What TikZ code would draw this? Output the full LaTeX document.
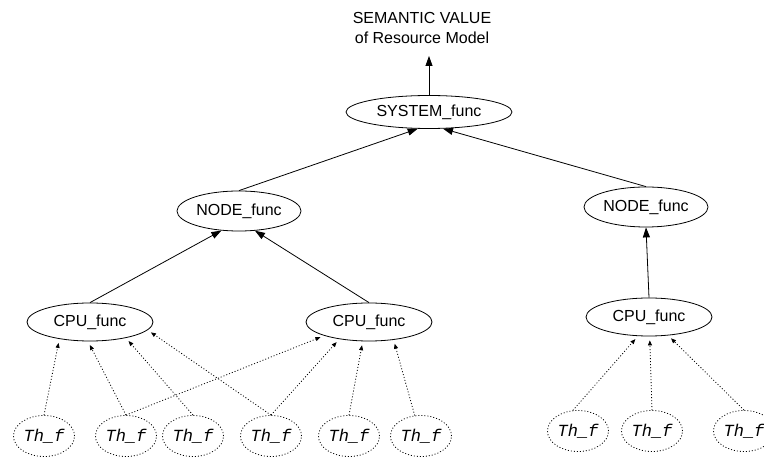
\documentclass[tikz,border=0pt]{standalone}
\usepackage{fontspec}
\setmainfont{Liberation Sans}
\newfontfamily\thfont{Liberation Mono}
\usetikzlibrary{arrows.meta,shapes.geometric}

\begin{document}
\begin{tikzpicture}[x=1pt,y=-1pt,
  func/.style={ellipse, draw, line width=0.8pt, inner sep=0pt,
    minimum width=124pt, minimum height=38pt,
    font=\fontsize{16}{20}\selectfont},
  thr/.style={ellipse, draw, line width=0.8pt, dash pattern=on 1pt off 2pt,
    inner sep=0pt, minimum width=61pt, minimum height=41pt,
    font=\thfont\itshape\fontsize{17}{20}\selectfont},
  up/.style={-{Triangle[length=10pt,width=7pt]}, line width=0.8pt},
  feed/.style={-{Triangle[length=5pt,width=4pt]}, line width=0.8pt,
    dash pattern=on 1pt off 2pt, shorten >=4pt}
]
\useasboundingbox (0,0) rectangle (764,457);

% top label
\node[anchor=south, inner sep=0pt, align=center,
  font=\fontsize{16}{20}\selectfont] (lbl) at (422,44)
  {SEMANTIC VALUE\\ of Resource Model};

% function nodes
\node[func, minimum width=166pt, minimum height=33pt] (sys) at (429,112) {SYSTEM\_func};
\node[func, minimum height=40pt] (node1) at (239,211) {NODE\_func};
\node[func, minimum height=40pt] (node2) at (646,207) {NODE\_func};
\node[func, minimum width=126pt] (cpu1) at (90,322) {CPU\_func};
\node[func, minimum width=126pt] (cpu2) at (369,322) {CPU\_func};
\node[func, minimum width=126pt] (cpu3) at (649,317) {CPU\_func};

% thread nodes
\node[thr] (th1) at (44,436) {Th\_f};
\node[thr] (th2) at (126,436) {Th\_f};
\node[thr] (th3) at (193,436) {Th\_f};
\node[thr] (th4) at (271,436) {Th\_f};
\node[thr] (th5) at (349,436) {Th\_f};
\node[thr] (th6) at (421,436) {Th\_f};
\node[thr] (th7) at (578,431) {Th\_f};
\node[thr] (th8) at (652,431) {Th\_f};
\node[thr] (th9) at (744,431) {Th\_f};

% solid hierarchy edges
\draw[up, shorten >=12pt] (sys.north) -- (sys.north |- lbl.south);
\draw[up] (node1.north) -- (sys.236);
\draw[up] (node2.north) -- (sys.310.7);
\draw[up] (cpu1.north) -- (node1.228.5);
\draw[up] (cpu2.north) -- (node1.309.7);
\draw[up] (cpu3.north) -- (node2.south);

% dotted thread edges
\draw[feed] (th1.north) -- (cpu1.209);
\draw[feed] (th2.north) -- (cpu1.264);
\draw[feed] (th2.north) -- (cpu2.197);
\draw[feed] (th3.north) -- (cpu1.336);
\draw[feed] (th4.north) -- (cpu1.352);
\draw[feed] (th4.north) -- (cpu2.210);
\draw[feed] (th5.north) -- (cpu2.252);
\draw[feed] (th6.107) -- (cpu2.324);
\draw[feed] (th7.104) -- (cpu3.240);
\draw[feed] (th8.north) -- (cpu3.272);
\draw[feed] (th9.north) -- (cpu3.316);
\end{tikzpicture}
\end{document}
